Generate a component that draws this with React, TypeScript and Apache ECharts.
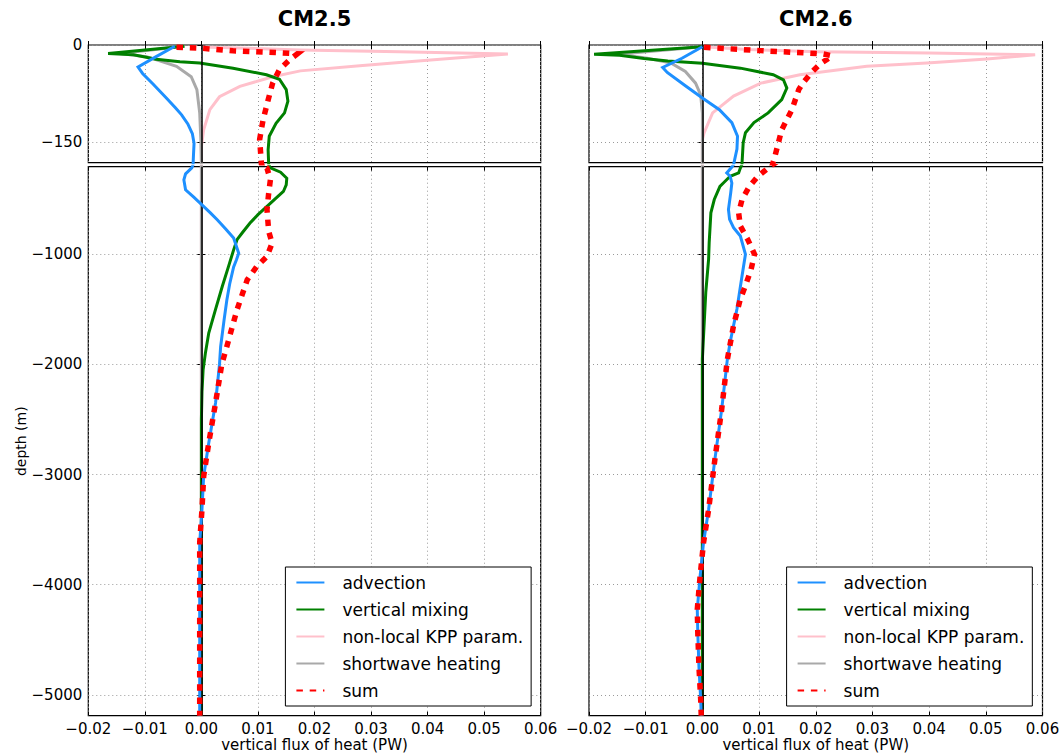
import React, { useEffect, useRef } from 'react';
import * as echarts from 'echarts';

// Each point: [vertical flux of heat (PW), depth (m)]
type Pt = [number, number];

const modelTitles = ['CM2.5', 'CM2.6'];
const seriesNames = ['advection', 'vertical mixing', 'non-local KPP param.', 'shortwave heating', 'sum'];
const xTicksMin = -0.02;
const xTicksMax = 0.06;
const xTicksStep = 0.01;
const upperDepthTicks = [0, -150];
const deepDepthTicks = [-1000, -2000, -3000, -4000, -5000];
const upperDepthRange = [-182, 0];
const deepDepthRange = [-5190, -205];

// ---------------- CM2.5 ----------------
const cm25Advection: Pt[] = [
  [-0.0047, -2], [-0.008, -18], [-0.0112, -34], [-0.0104, -44], [-0.0086, -60], [-0.0062, -82],
  [-0.0046, -97], [-0.0035, -108], [-0.0024, -122], [-0.0016, -137], [-0.0013, -152], [-0.0014, -170],
  [-0.0015, -190], [-0.0017, -216], [-0.0028, -270], [-0.0031, -325], [-0.0028, -415], [-0.0014, -480],
  [0.0001, -551], [0.0015, -620], [0.0028, -687], [0.0043, -770], [0.0057, -853], [0.0062, -930],
  [0.0066, -990], [0.0062, -1050], [0.0057, -1115], [0.005, -1270], [0.0045, -1415], [0.004, -1600],
  [0.0034, -1840], [0.0032, -2000], [0.0025, -2350], [0.0013, -2713], [0.0004, -3016], [0.0001, -3318],
  [-0.0003, -3620], [-0.0003, -4100], [-0.0003, -5190],
];
const cm25Mixing: Pt[] = [
  [-0.003, -2], [-0.0165, -13], [-0.012, -15], [-0.008, -22], [-0.0038, -26], [-0.0003, -28],
  [0.0056, -36], [0.0115, -46], [0.0138, -53], [0.015, -69], [0.0153, -87], [0.0147, -105],
  [0.0132, -121], [0.012, -141], [0.0118, -162], [0.0119, -185], [0.0122, -215], [0.014, -255],
  [0.0151, -310], [0.015, -370], [0.0145, -430], [0.013, -500], [0.0116, -566], [0.01, -640],
  [0.0086, -717], [0.0073, -800], [0.0063, -868], [0.0057, -960], [0.0048, -1110], [0.0037, -1290],
  [0.0025, -1500], [0.0013, -1715], [0.0007, -1900], [0.0003, -2050], [0.0001, -2250], [0, -2500],
  [0, -5190],
];
const cm25Kpp: Pt[] = [
  [0, -3], [0.0175, -7.6], [0.035, -10.5], [0.0542, -13.8], [0.045, -20], [0.035, -27], [0.028, -32],
  [0.0175, -40], [0.0126, -49], [0.0068, -64], [0.0032, -80], [0.0015, -100], [0.0004, -131],
  [0, -157], [0, -5190],
];
const cm25Shortwave: Pt[] = [
  [-0.003, -2], [-0.0144, -13], [-0.0097, -18], [-0.0044, -33], [-0.0018, -49], [-0.0008, -69],
  [-0.0003, -105], [-0.0001, -146], [0, -182], [0, -5190],
];
const cm25Sum: Pt[] = [
  [-0.0044, -3.6], [0, -5], [0.0056, -9], [0.0115, -11], [0.017, -13.5], [0.0156, -23], [0.0138, -38],
  [0.0126, -59], [0.0118, -85], [0.0109, -116], [0.0103, -146], [0.0106, -182], [0.0116, -218],
  [0.0122, -324], [0.0119, -445], [0.0116, -596], [0.0119, -793], [0.0125, -899], [0.0116, -1020],
  [0.0098, -1111], [0.0081, -1232], [0.0063, -1504], [0.0045, -1837], [0.0036, -2000], [0.0025, -2350],
  [0.0013, -2713], [0.0004, -3016], [0.0001, -3318], [-0.0003, -3620], [-0.0003, -4100], [-0.0003, -5190],
];

// ---------------- CM2.6 ----------------
const cm26Advection: Pt[] = [
  [0, -2.6], [-0.0036, -20.5], [-0.007, -34.8], [-0.0062, -42.5], [-0.003, -63], [0, -82], [0.003, -100],
  [0.0052, -120], [0.0062, -141], [0.0061, -161], [0.0055, -185], [0.0052, -208], [0.0043, -262],
  [0.0049, -292], [0.0052, -353], [0.005, -443], [0.0046, -594], [0.0048, -684], [0.0055, -759],
  [0.0067, -834], [0.0076, -1000], [0.007, -1196], [0.0061, -1497], [0.0049, -1798], [0.0044, -1957],
  [0.0034, -2411], [0.0022, -2865], [0.0011, -3318], [0.0002, -3620], [-0.0004, -3923], [-0.0009, -4226],
  [-0.0008, -4450], [-0.0006, -4750], [-0.0003, -5040], [-0.0002, -5190],
];
const cm26Mixing: Pt[] = [
  [0, -2.6], [-0.0191, -14.3], [-0.0146, -15.9], [-0.0103, -21], [-0.0061, -24.6], [0, -28.2],
  [0.0067, -35.8], [0.0125, -46], [0.0143, -53.8], [0.0149, -66.6], [0.014, -84.5], [0.0116, -105],
  [0.0091, -120], [0.0076, -135.7], [0.0072, -151], [0.007, -182], [0.0067, -217], [0.0064, -262],
  [0.0049, -292], [0.0037, -353], [0.0031, -383], [0.0021, -503], [0.0015, -624], [0.0012, -895],
  [0.0011, -1045], [0.0006, -1346], [0.0003, -1647], [0, -1950], [0, -5190],
];
const cm26Kpp: Pt[] = [
  [0, -2.6], [0.008, -7], [0.0202, -10.5], [0.04, -12.5], [0.0587, -15], [0.0502, -21.6], [0.0396, -28],
  [0.029, -33], [0.0172, -46], [0.0103, -59], [0.0055, -79], [0.0018, -105], [0.0003, -136], [0, -146],
  [0, -5190],
];
const cm26Shortwave: Pt[] = [
  [0, -2.6], [-0.0149, -14.3], [-0.0097, -20.5], [-0.0055, -28], [-0.003, -41], [-0.0012, -59],
  [-0.0003, -77], [0, -105], [0, -5190],
];
const cm26Sum: Pt[] = [
  [0.0003, -3.6], [0.0103, -8.7], [0.019, -12.7], [0.0213, -13.8], [0.0229, -16.8], [0.0208, -29],
  [0.0193, -42], [0.0178, -58], [0.017, -69], [0.0158, -100], [0.014, -131], [0.0128, -172],
  [0.0122, -190], [0.0116, -217], [0.0098, -292], [0.0083, -383], [0.007, -503], [0.0064, -624],
  [0.0067, -744], [0.008, -865], [0.0092, -1000], [0.0086, -1135], [0.0076, -1286], [0.0067, -1406],
  [0.0055, -1647], [0.0044, -1957], [0.0034, -2411], [0.0022, -2865], [0.0011, -3318], [0.0002, -3620],
  [-0.0004, -3923], [-0.0009, -4226], [-0.0008, -4450], [-0.0006, -4750], [-0.0003, -5040],
  [-0.0002, -5190],
];

const modelProfiles: Pt[][][] = [
  [cm25Advection, cm25Mixing, cm25Kpp, cm25Shortwave, cm25Sum],
  [cm26Advection, cm26Mixing, cm26Kpp, cm26Shortwave, cm26Sum],
];

const FONT = '"DejaVu Sans", "Liberation Sans", sans-serif';
const seriesColors = ['#1E90FF', '#008000', '#FFC0CB', '#A9A9A9', '#FF0000'];
const seriesWidths = [3, 3, 3, 3, 5.5];
const seriesDash: any[] = ['solid', 'solid', 'solid', 'solid', [6.5, 6.8]];
const seriesZ = [3, 2.2, 2, 2.1, 3.2];

const colLeft = [88.3, 589];
const colWidth = [452.4, 453.5];
const rowTop = [45, 166.7];
const rowHeight = [117.7, 549];

function fmtX(v: number): string {
  const r = Math.round(v * 100) / 100;
  if (Math.abs(r) < 1e-9) return '0.00';
  return (r < 0 ? '\u2212' : '') + Math.abs(r).toFixed(2);
}
function fmtY(v: number): string {
  if (Math.abs(v) < 1e-9) return '0';
  return (v < 0 ? '\u2212' : '') + Math.abs(Math.round(v));
}

function buildOption(): any {
  const grid: any[] = [];
  const xAxis: any[] = [];
  const yAxis: any[] = [];
  const series: any[] = [];
  const gridlineStyle = { color: '#9a9a9a', width: 1, type: [1, 3] };
  const tickStyle = { show: true, inside: true, length: 4, lineStyle: { color: '#000', width: 1 } };
  const labelStyle = { color: '#000', fontFamily: FONT, fontSize: 15 };

  const cells: { m: number; r: number }[] = [];
  for (let m = 0; m < 2; m++) for (let r = 0; r < 2; r++) cells.push({ m, r });

  cells.forEach(({ m, r }) => {
    grid.push({
      left: colLeft[m], width: colWidth[m], top: rowTop[r], height: rowHeight[r],
      show: true, borderColor: '#000', borderWidth: 1.2, backgroundColor: 'transparent',
      containLabel: false, outerBoundsMode: 'none',
    });
  });
  // primary axes
  cells.forEach(({ m, r }, i) => {
    const deep = r === 1;
    xAxis.push({
      gridIndex: i, type: 'value', position: 'bottom',
      min: xTicksMin, max: xTicksMax, interval: xTicksStep,
      axisLine: { show: false }, axisTick: tickStyle,
      axisLabel: { show: deep, formatter: fmtX, margin: 6, ...labelStyle, showMinLabel: true, showMaxLabel: true },
      splitLine: { show: true, lineStyle: gridlineStyle },
      name: deep ? 'vertical flux of heat (PW)' : '', nameLocation: 'middle', nameGap: 22,
      nameMoveOverlap: false,
      nameTextStyle: { ...labelStyle },
    });
    const ticks = deep ? deepDepthTicks : upperDepthTicks;
    const range = deep ? deepDepthRange : upperDepthRange;
    yAxis.push({
      gridIndex: i, type: 'value', position: 'left',
      min: range[0], max: range[1],
      axisLine: { show: false },
      axisTick: { ...tickStyle, customValues: ticks },
      axisLabel: { show: m === 0, customValues: ticks, formatter: fmtY, margin: 6, ...labelStyle },
      splitLine: { show: true, lineStyle: gridlineStyle },
      name: m === 0 && deep ? 'depth (m)' : '', nameLocation: 'middle', nameRotate: 90, nameGap: 60,
      nameTextStyle: { ...labelStyle, fontSize: 14 },
    });
  });
  // secondary axes (ticks on top/right, like matplotlib)
  cells.forEach(({ r }, i) => {
    const deep = r === 1;
    xAxis.push({
      gridIndex: i, type: 'value', position: 'top',
      min: xTicksMin, max: xTicksMax, interval: xTicksStep,
      axisLine: { show: false }, axisTick: tickStyle, axisLabel: { show: false }, splitLine: { show: false },
    });
    const ticks = deep ? deepDepthTicks : upperDepthTicks;
    const range = deep ? deepDepthRange : upperDepthRange;
    yAxis.push({
      gridIndex: i, type: 'value', position: 'right',
      min: range[0], max: range[1],
      axisLine: { show: false },
      axisTick: { ...tickStyle, customValues: ticks },
      axisLabel: { show: false, customValues: ticks }, splitLine: { show: false },
    });
  });

  cells.forEach(({ m }, i) => {
    modelProfiles[m].forEach((profile, k) => {
      const s: any = {
        type: 'line', name: seriesNames[k], xAxisIndex: i, yAxisIndex: i,
        data: profile, symbol: 'none', showSymbol: false, clip: true, silent: true,
        emphasis: { disabled: true },
        lineStyle: { color: seriesColors[k], width: seriesWidths[k], type: seriesDash[k], cap: 'butt', join: 'miter' },
        itemStyle: { color: seriesColors[k] },
        z: seriesZ[k],
      };
      if (k === 0) {
        s.markLine = {
          silent: true, symbol: ['none', 'none'], z: 2.5, animation: false,
          label: { show: false }, emphasis: { disabled: true },
          lineStyle: { color: '#000', width: 1.5, type: 'solid' },
          data: [{ xAxis: 0 }],
        };
      }
      series.push(s);
    });
  });

  const legend = [0, 1].map((m) => ({
    show: true, orient: 'vertical',
    left: m === 0 ? 285.4 : 786.6, top: 567,
    data: seriesNames, itemWidth: 28, itemHeight: 14, itemGap: 10,
    padding: [7, 8, 7, 10], backgroundColor: '#fff', borderColor: '#000', borderWidth: 1, borderRadius: 0,
    selectedMode: false,
    itemStyle: { opacity: 0, borderWidth: 0 },
    textStyle: { fontFamily: FONT, fontSize: 17, color: '#000', lineHeight: 17, padding: [0, 0, 0, 13] },
  }));

  const graphic = modelTitles.map((t, m) => ({
    type: 'text', x: colLeft[m] + colWidth[m] / 2, y: 19,
    style: {
      text: t, fill: '#000', font: `bold 21px ${FONT}`,
      textAlign: 'center', textVerticalAlign: 'middle', verticalAlign: 'middle',
    },
  }));

  return {
    animation: false,
    backgroundColor: '#fff',
    textStyle: { fontFamily: FONT },
    grid, xAxis, yAxis, series, legend, graphic,
  };
}

export default function App() {
  const ref = useRef<HTMLDivElement>(null);
  useEffect(() => {
    if (!ref.current) return;
    const chart = echarts.init(ref.current, null, { renderer: 'svg' });
    chart.setOption(buildOption());
    return () => chart.dispose();
  }, []);
  return (
    <div
      ref={ref}
      style={{ position: 'absolute', left: 0, top: 0, width: 1060, height: 756, background: '#fff' }}
    />
  );
}
